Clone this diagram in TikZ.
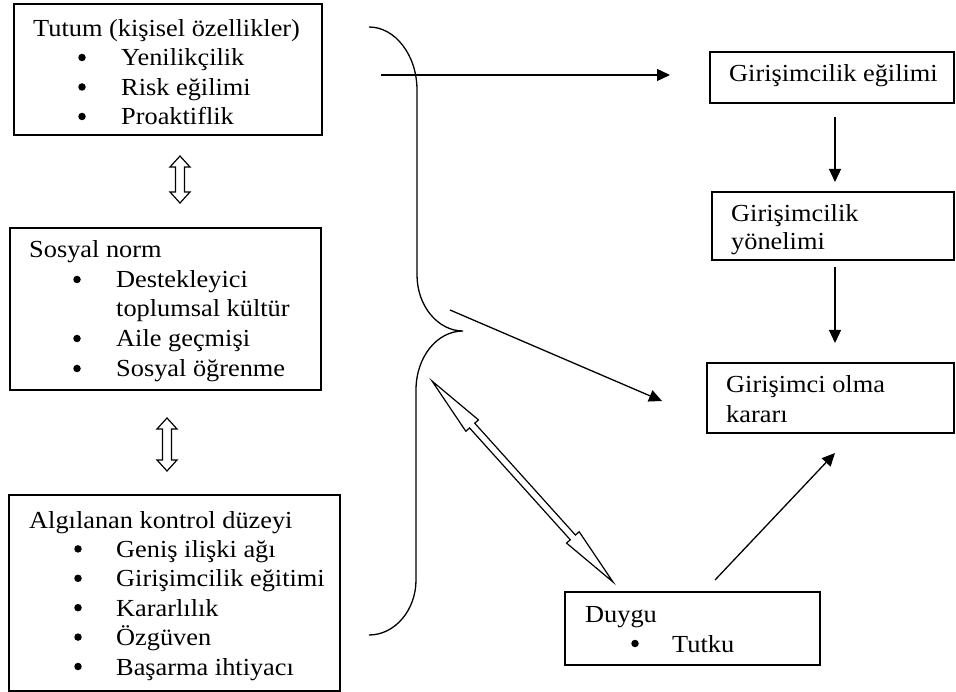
\documentclass[tikz,border=0pt]{standalone}
\usepackage{fontspec}
\setmainfont{Liberation Serif}[FakeStretch=1.075]
\usetikzlibrary{arrows.meta,calc,fit}
\newcommand\fs{\fontsize{24.5}{29}\selectfont}
\newcommand\dblarrow[5]{%
  \coordinate (hA) at ($(#1)!#3!(#2)$);
  \coordinate (hB) at ($(#2)!#3!(#1)$);
  \draw[line width=1.2pt, line join=miter, fill=white] (#1) -- ($(hA)!#4!90:(#2)$) -- ($(hA)!#5!90:(#2)$)
    -- ($(hB)!#5!-90:(#1)$) -- ($(hB)!#4!-90:(#1)$) -- (#2)
    -- ($(hB)!#4!90:(#1)$) -- ($(hB)!#5!90:(#1)$)
    -- ($(hA)!#5!-90:(#2)$) -- ($(hA)!#4!-90:(#2)$) -- cycle;}
\begin{document}
\begin{tikzpicture}[x=1pt,y=-1pt,
  box/.style={draw, line width=1.3pt, inner sep=0pt},
  txt/.style={anchor=base west, inner sep=0pt, font=\fs},
  bul/.style={circle, fill=black, inner sep=0pt, minimum size=7.5pt},
  arr/.style={-{Triangle[length=13pt,width=12pt]}, line width=1.3pt},
  ln/.style={line width=1.3pt}]
\useasboundingbox (0,0) rectangle (956,692);
% boxes
\node[box, fit={(14,4) (322,135)}] (b1) {};
\node[box, fit={(10,228) (321,390)}] (b2) {};
\node[box, fit={(9,495) (340,691)}] (b3) {};
\node[box, fit={(710,52) (954,103)}] (bA) {};
\node[box, fit={(712,192) (954,260)}] (bB) {};
\node[box, fit={(707,363) (954,433)}] (bC) {};
\node[box, fit={(565,592) (820,665)}] (bD) {};
% box 1 text
\node[txt] (t1) at (33,37) {Tutum (kişisel özellikler)};
\node[bul] (u11) at (82,57.5) {};
\node[txt] (t11) at (121,66) {Yenilikçilik};
\node[bul] (u12) at (82,87) {};
\node[txt] (t12) at (121,95.5) {Risk eğilimi};
\node[bul] (u13) at (82,116.5) {};
\node[txt] (t13) at (121,125) {Proaktiflik};
% box 2 text
\node[txt] (t2) at (29,258) {Sosyal norm};
\node[bul] (u21) at (77,279.5) {};
\node[txt] (t21) at (116,288) {Destekleyici};
\node[txt] (t21b) at (116,317) {toplumsal kültür};
\node[bul] (u22) at (77,338.5) {};
\node[txt] (t22) at (116,347) {Aile geçmişi};
\node[bul] (u23) at (77,368.5) {};
\node[txt] (t23) at (116,377) {Sosyal öğrenme};
% box 3 text
\node[txt] (t3) at (29,528) {Algılanan kontrol düzeyi};
\node[bul] (u31) at (78,548.9) {};
\node[txt] (t31) at (116,557.4) {Geniş ilişki ağı};
\node[bul] (u32) at (78,578.3) {};
\node[txt] (t32) at (116,586.8) {Girişimcilik eğitimi};
\node[bul] (u33) at (78,607.7) {};
\node[txt] (t33) at (116,616.2) {Kararlılık};
\node[bul] (u34) at (78,637.1) {};
\node[txt] (t34) at (116,645.6) {Özgüven};
\node[bul] (u35) at (78,666.5) {};
\node[txt] (t35) at (116,675) {Başarma ihtiyacı};
% right boxes text
\node[txt] (tA) at (729,82) {Girişimcilik eğilimi};
\node[txt] (tB1) at (731,222) {Girişimcilik};
\node[txt] (tB2) at (731,250) {yönelimi};
\node[txt] (tC1) at (726,393) {Girişimci olma};
\node[txt] (tC2) at (726,423) {kararı};
\node[txt] (tD) at (585,622) {Duygu};
\node[bul] (uD) at (635,643.5) {};
\node[txt] (tD1) at (672,652) {Tutku};
% brace
\draw[ln] (369,27) .. controls (395,27) and (417,55) .. (417,90)
  -- (417,275) .. controls (417,306) and (438,331) .. (463,331)
  .. controls (437,331) and (416,357) .. (416,390)
  -- (416,580) .. controls (416,610) and (395,635) .. (369,635);
% connector endpoints
\coordinate (c1s) at (381,75);
\coordinate (c1e) at (670,75);
\coordinate (c2s) at (835,117);
\coordinate (c2e) at (835,182);
\coordinate (c3s) at (835,267);
\coordinate (c3e) at (835,343);
\coordinate (c4s) at (450,310);
\coordinate (c4e) at (662,401);
\coordinate (c5s) at (715,580);
\coordinate (c5e) at (835,453);
\draw[arr] (c1s) -- (c1e);
\draw[arr] (c2s) -- (c2e);
\draw[arr] (c3s) -- (c3e);
\draw[arr] (c4s) -- (c4e);
\draw[arr] (c5s) -- (c5e);
% double arrows
\coordinate (d1a) at (180,156);
\coordinate (d1b) at (180,203);
\coordinate (d2a) at (167,418);
\coordinate (d2b) at (167,471);
\coordinate (d3a) at (432,381);
\coordinate (d3b) at (613,582);
\dblarrow{d1a}{d1b}{11pt}{10pt}{4.5pt}
\dblarrow{d2a}{d2b}{11pt}{10pt}{4.5pt}
\dblarrow{d3a}{d3b}{60pt}{8.5pt}{3.5pt}
\end{tikzpicture}
\end{document}
